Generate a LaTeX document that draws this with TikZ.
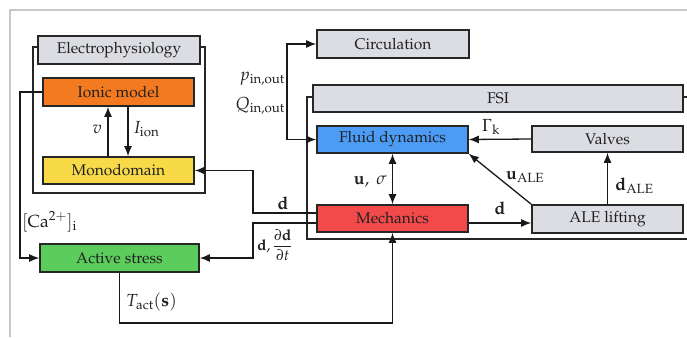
\documentclass[tikz,border=0pt]{standalone}
\usepackage[T1]{fontenc}
\usepackage{mathpazo}
\usetikzlibrary{arrows.meta}
\definecolor{boxgray}{HTML}{DCDDE3}
\definecolor{ionorange}{HTML}{F47A22}
\definecolor{monoyellow}{HTML}{F8D948}
\definecolor{fluidblue}{HTML}{4C9CF6}
\definecolor{mechred}{HTML}{F24A4A}
\definecolor{actgreen}{HTML}{5CCC5C}
\definecolor{framegray}{HTML}{C8C8C8}
\definecolor{txt}{HTML}{202020}
\tikzset{
  blk/.style={draw=black!85, line width=1.6pt, minimum height=27pt, inner sep=0pt,
    font=\fontsize{15.5}{17}\selectfont, text=txt},
  grp/.style={draw=black!85, line width=1.6pt},
  conn/.style={line width=1.3pt, draw=black!90},
  arr/.style={conn, -{Latex[length=10pt,width=8pt]}},
  darr/.style={conn, {Latex[length=10pt,width=8pt]}-{Latex[length=10pt,width=8pt]}},
  lbl/.style={font=\fontsize{17.5}{19}\selectfont, text=txt, inner sep=1pt}
}
\begin{document}
\begin{tikzpicture}[x=1pt,y=-1pt]
\useasboundingbox (0,0) rectangle (687,337);
\clip (0,0) rectangle (687,337);
% outer light frame
\draw[framegray, line width=1.2pt] (10,337) -- (10,10) -- (690,10);
% group frames
\draw[grp] (33,47) rectangle (205,193);
\draw[grp] (307,97) rectangle (690,239);
% boxes
\node[blk, fill=boxgray, minimum width=162pt, minimum height=28pt] (elec) at (119,50) {Electrophysiology};
\node[blk, fill=ionorange, minimum width=151pt, minimum height=28pt] (ionic) at (118.5,92) {Ionic model};
\node[blk, fill=monoyellow, minimum width=151pt] (mono) at (118.5,170.5) {Monodomain};
\node[blk, fill=actgreen, minimum width=159pt, minimum height=28pt] (active) at (119.5,258) {Active stress};
\node[blk, fill=boxgray, minimum width=152pt, minimum height=28pt] (circ) at (393,44) {Circulation};
\node[blk, fill=boxgray, minimum width=370pt] (fsi) at (498,98.5) {FSI};
\node[blk, fill=fluidblue, minimum width=151pt] (fluid) at (392.5,139.5) {Fluid dynamics};
\node[blk, fill=mechred, minimum width=151pt] (mech) at (392.5,218.5) {Mechanics};
\node[blk, fill=boxgray, minimum width=151pt, minimum height=26pt] (valves) at (607.5,139) {Valves};
\node[blk, fill=boxgray, minimum width=151pt, minimum height=28pt] (ale) at (607.5,219) {ALE lifting};
% helper coordinates
\coordinate (vx) at (108,0);
\coordinate (ix) at (128,0);
\coordinate (caL) at (20,92);
\coordinate (pq) at (287,0);
\coordinate (dA) at (253,213);
\coordinate (dB) at (253,223);
\coordinate (tb) at (0,323);
\coordinate (md) at (0,223);
% electrophysiology connectors
\draw[arr] (mono.north -| vx) -- (ionic.south -| vx);
\draw[arr] (ionic.south -| ix) -- (mono.north -| ix);
\node[lbl, anchor=east] (lv) at (103,129) {$v$};
\node[lbl, anchor=west] (li) at (132,129) {$I_{\mathrm{ion}}$};
\draw[arr] (ionic.west) -- (caL) |- (active.west);
\node[lbl, anchor=west] (lca) at (21,222) {$[\mathrm{Ca}^{2+}]_{\mathrm{i}}$};
% circulation
\draw[darr] (circ.west) -- (circ.west -| pq) -- (fluid.west -| pq) -- (fluid.west);
\node[lbl, anchor=east] (lp) at (286,79) {$p_{\mathrm{in,out}}$};
\node[lbl, anchor=east] (lq) at (286,106) {$Q_{\mathrm{in,out}}$};
% FSI connectors
\draw[arr] (valves.west) -- (fluid.east);
\node[lbl] (lg) at (491,127) {$\Gamma_{\mathrm{k}}$};
\draw[arr] (ale.north west) -- (fluid.south east);
\node[lbl] (lu) at (525,177) {$\mathbf{u}_{\mathrm{ALE}}$};
\draw[arr] (ale.north) -- (valves.south);
\node[lbl, anchor=west] (ld) at (614,186) {$\mathbf{d}_{\mathrm{ALE}}$};
\draw[arr] (mech.east |- md) -- (ale.west |- md);
\node[lbl] (ldd) at (500,208) {$\mathbf{d}$};
\draw[darr] (fluid.south) -- (mech.north);
\node[lbl, anchor=east] (lus) at (388,182) {$\mathbf{u},\ \sigma$};
% mechanics to electrophysiology
\draw[arr] (mech.west |- dA) -- (dA) |- (mono.east);
\node[lbl] (ld1) at (283,203) {$\mathbf{d}$};
\draw[arr] (mech.west |- dB) -- (dB) |- (active.east);
\node[lbl, anchor=west, font=\fontsize{15}{17}\selectfont] (ld2) at (256,245) {$\displaystyle\mathbf{d},\frac{\partial\mathbf{d}}{\partial t}$};
% active stress to mechanics
\draw[arr] (active.south) -- (active.south |- tb) -| (mech.south);
\node[lbl, anchor=west] (lt) at (125,302) {$T_{\mathrm{act}}(\mathbf{s})$};
\end{tikzpicture}
\end{document}
